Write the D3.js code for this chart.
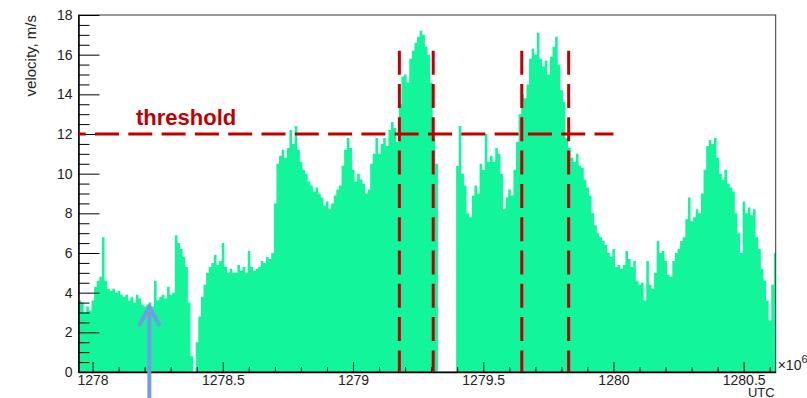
<!DOCTYPE html>
<html>
<head>
<meta charset="utf-8">
<script src="https://cdn.jsdelivr.net/npm/d3@7"></script>
<style>
    body { margin: 0; background: #fff; }
    svg { display: block; font-family: 'Liberation Sans', Arial, sans-serif; }
</style>
</head>
<body>
<svg id="chart" width="807" height="398"></svg>
<script>
// histogram: bin start (x10^6 s UTC), bin width, velocity per bin (m/s)
const binStart = 1277.946
const binWidth = 0.01
const velocity = [
    3.6, 3.5, 3.0, 3.3, 3.1, 3.6, 4.3, 4.6, 4.8, 6.8,
    4.6, 4.2, 4.1, 4.2, 4.0, 4.1, 3.9, 3.8, 3.9, 3.6,
    3.8, 3.5, 3.9, 3.7, 3.4, 3.3, 3.4, 3.5, 3.3, 4.6,
    3.6, 3.8, 3.9, 3.7, 4.3, 3.9, 4.0, 6.9, 6.5, 6.2,
    5.8, 5.3, 3.5, 0.8, 0, 1.5, 2.8, 3.8, 4.4, 5.0,
    5.3, 5.5, 5.9, 5.4, 5.6, 6.5, 5.3, 5.0, 5.2, 5.0,
    5.0, 5.4, 5.1, 5.3, 5.0, 6.1, 5.3, 5.1, 5.2, 5.3,
    5.6, 5.5, 5.8, 5.7, 6.0, 8.5, 10.5, 10.9, 11.2, 10.8,
    11.3, 12.2, 11.5, 12.4, 11.2, 10.6, 10.2, 10.0, 9.6, 9.4,
    9.1, 9.3, 9.0, 8.8, 8.4, 8.6, 8.2, 8.5, 8.9, 9.2,
    9.4, 10.4, 11.2, 11.8, 11.3, 10.2, 9.6, 10.0, 9.7, 9.5,
    9.0, 9.2, 10.5, 11.0, 11.8, 11.0, 11.5, 11.8, 11.4, 12.2,
    12.6, 12.3, 11.6, 13.5, 14.9, 15.0, 14.6, 15.8, 16.2, 16.6,
    16.9, 17.2, 17.0, 16.4, 16.0, 14.6, 11.8, 10.5, 0, 0,
    0, 0, 0, 0, 0, 10.4, 12.4, 10.0, 9.4, 8.0,
    7.8, 8.9, 9.4, 9.0, 10.5, 10.2, 12.0, 10.6, 10.9, 10.6,
    11.3, 11.0, 10.0, 8.2, 8.8, 9.2, 8.9, 10.2, 11.6, 13.0,
    14.0, 13.8, 14.5, 15.8, 16.3, 16.0, 17.1, 15.8, 15.4, 15.7,
    15.0, 15.9, 16.4, 16.9, 15.5, 14.2, 13.6, 11.8, 11.3, 10.8,
    10.6, 11.0, 10.4, 10.3, 9.7, 9.3, 8.9, 8.0, 7.4, 7.0,
    6.8, 6.6, 6.4, 6.0, 5.8, 6.2, 5.3, 5.4, 5.2, 5.4,
    6.1, 5.7, 5.3, 5.6, 4.6, 4.4, 4.5, 3.6, 5.6, 4.4,
    4.2, 5.0, 6.6, 6.0, 6.1, 5.6, 4.9, 4.8, 5.6, 6.0,
    6.2, 6.6, 6.8, 7.7, 8.8, 7.6, 7.8, 8.2, 8.0, 9.0,
    10.2, 11.4, 11.7, 11.5, 11.8, 10.8, 10.0, 9.7, 10.2, 9.5,
    9.3, 9.1, 8.0, 7.0, 6.0, 8.6, 8.0, 8.3, 7.9, 8.2,
    6.8, 6.2, 5.2, 4.6, 3.6, 2.6, 4.4, 6.0
]
const xMajor = [1278, 1278.5, 1279, 1279.5, 1280, 1280.5]
const yMajor = [0, 2, 4, 6, 8, 10, 12, 14, 16, 18]
const threshold = 12
const thresholdEnd = 1280
const cutLines = [1279.178, 1279.308, 1279.648, 1279.828]
const cutTop = 16.2
const arrowAt = [1278.218, 3.28]

const svg = d3.select('#chart')
const plotL = 78.5, plotR = 775.7, plotT = 15, plotB = 372

const x = d3.scaleLinear().domain([1277.946, 1280.623]).range([plotL, plotR])
const y = d3.scaleLinear().domain([0, 18]).range([plotB, plotT])

svg.append('defs')
    .append('clipPath')
    .attr('id', 'plot')
    .append('rect')
    .attr('x', plotL)
    .attr('y', plotT)
    .attr('width', plotR - plotL)
    .attr('height', plotB - plotT)

// histogram as one stepped area
const steps = velocity.map((v, i) => [binStart + i * binWidth, v])
steps.push([binStart + velocity.length * binWidth, velocity[velocity.length - 1]])

const area = d3
    .area()
    .curve(d3.curveStepAfter)
    .x((d) => x(d[0]))
    .y0(y(0))
    .y1((d) => y(d[1]))

svg.append('path')
    .datum(steps)
    .attr('clip-path', 'url(#plot)')
    .attr('fill', '#12f59b')
    .attr('d', area)

// frame
svg.append('rect')
    .attr('x', plotL)
    .attr('y', plotT)
    .attr('width', plotR - plotL)
    .attr('height', plotB - plotT)
    .attr('fill', 'none')
    .attr('stroke', '#333')
    .attr('stroke-width', 1)

// y axis, ticks drawn inside
const yMinor = d3.range(0, 18.01, 0.5).filter((d) => d % 2 !== 0)
svg.append('g')
    .attr('transform', `translate(${plotL},0)`)
    .call(d3.axisLeft(y).tickValues(yMinor).tickSize(-11).tickSizeOuter(0).tickFormat(''))
    .call((g) => g.select('.domain').remove())
svg.append('g')
    .attr('transform', `translate(${plotL},0)`)
    .call(d3.axisLeft(y).tickValues(yMajor).tickSize(-21).tickSizeOuter(0).tickPadding(6))
    .call((g) => g.selectAll('text').attr('font-size', 14).attr('fill', '#222').attr('font-family', null))
    .call((g) => g.select('.domain').attr('stroke-width', 1.5))

// x axis, ticks drawn inside
const xMinor = d3.range(1278, 1280.61, 0.1).filter((d) => Math.abs(d * 2 - Math.round(d * 2)) > 0.01)
svg.append('g')
    .attr('transform', `translate(0,${plotB})`)
    .call(d3.axisBottom(x).tickValues(xMinor).tickSize(-5).tickSizeOuter(0).tickFormat(''))
    .call((g) => g.select('.domain').remove())
svg.append('g')
    .attr('transform', `translate(0,${plotB})`)
    .call(d3.axisBottom(x).tickValues(xMajor).tickSize(-10).tickSizeOuter(0).tickPadding(3).tickFormat((d) => d))
    .call((g) => g.selectAll('text').attr('font-size', 14).attr('fill', '#222').attr('font-family', null))
    .call((g) => g.select('.domain').attr('stroke-width', 1.5))

// axis titles
svg.append('text')
    .attr('transform', `translate(36,${plotT}) rotate(-90)`)
    .attr('text-anchor', 'end')
    .attr('font-size', 15)
    .attr('fill', '#222')
    .text('velocity, m/s')

const exp = svg.append('text')
    .attr('x', plotR + 2)
    .attr('y', plotB - 2)
    .attr('font-size', 14)
    .attr('fill', '#222')
exp.append('tspan').text('×10')
exp.append('tspan').attr('dy', -7).attr('font-size', 11).text('6')

svg.append('text')
    .attr('x', plotR - 1)
    .attr('y', 397)
    .attr('text-anchor', 'end')
    .attr('font-size', 13)
    .attr('fill', '#222')
    .text('UTC')

// threshold and cut lines
svg.append('line')
    .attr('x1', x.range()[0])
    .attr('x2', x(thresholdEnd))
    .attr('y1', y(threshold))
    .attr('y2', y(threshold))
    .attr('stroke', '#c00000')
    .attr('stroke-width', 3)
    .attr('stroke-dasharray', '24 9.3')
    .attr('stroke-dashoffset', 16.8)

svg.append('g')
    .selectAll('line')
    .data(cutLines)
    .join('line')
    .attr('x1', (d) => x(d))
    .attr('x2', (d) => x(d))
    .attr('y1', y(cutTop))
    .attr('y2', y(0))
    .attr('stroke', '#c00000')
    .attr('stroke-width', 3)
    .attr('stroke-dasharray', '24 9.3')

svg.append('text')
    .attr('x', 136)
    .attr('y', y(threshold) - 9)
    .attr('font-size', 22)
    .attr('font-weight', 'bold')
    .attr('fill', '#c00000')
    .text('threshold')

// blue arrow
const ax = x(arrowAt[0]), ay = y(arrowAt[1])
svg.append('path')
    .attr('d', `M${ax},398V${ay + 2}M${ax - 10.5},${ay + 19}L${ax},${ay}L${ax + 10.5},${ay + 19}`)
    .attr('fill', 'none')
    .attr('stroke', '#6f9ee2')
    .attr('stroke-width', 4)
</script>
</body>
</html>
